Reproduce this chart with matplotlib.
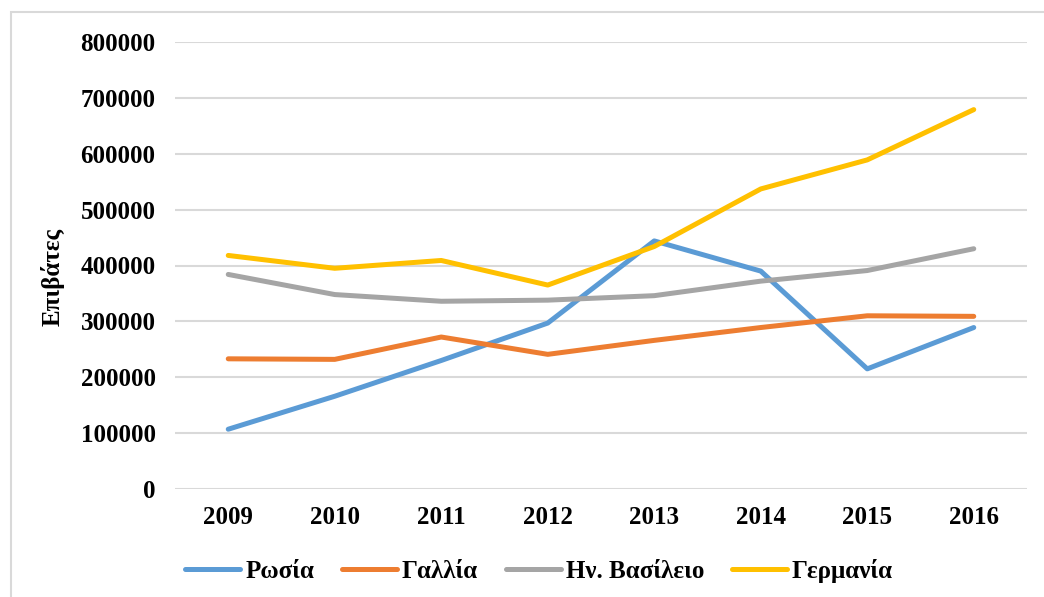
import matplotlib
matplotlib.use("Agg")
import matplotlib.pyplot as plt
from matplotlib.patches import Rectangle
from matplotlib.font_manager import FontProperties

years = ["2009", "2010", "2011", "2012", "2013", "2014", "2015", "2016"]
russia = [107000, 166000, 230000, 297000, 444000, 390000, 215000, 289000]
france = [233000, 232000, 272000, 241000, 266000, 289000, 310000, 309000]
uk = [384000, 348000, 336000, 338000, 346000, 372000, 391000, 430000]
germany = [418000, 395000, 409000, 365000, 434000, 537000, 589000, 679000]
series_names = ["Ρωσία", "Γαλλία", "Ην. Βασίλειο", "Γερμανία"]
colors = ["#5B9BD5", "#ED7D31", "#A5A5A5", "#FFC000"]
yticks = [0, 100000, 200000, 300000, 400000, 500000, 600000, 700000, 800000]

FAM = ['Liberation Serif', 'DejaVu Serif']
plt.rcParams['font.family'] = FAM
plt.rcParams['font.weight'] = 'bold'

fig = plt.figure(figsize=(10.44, 5.97), dpi=100)
fig.patches.append(Rectangle((11/1044, -0.1), 1.2, 1 - 12/597 + 0.1,
                             transform=fig.transFigure, fill=False,
                             edgecolor="#D9D9D9", linewidth=1.5))
ax = fig.add_axes([175/1044, 1 - 489/597, (1027 - 175)/1044, (489 - 42)/597])

x = list(range(len(years)))
for vals, name, c in zip([russia, france, uk, germany], series_names, colors):
    ax.plot(x, vals, color=c, linewidth=3.6, label=name, solid_capstyle='round')

ax.set_xlim(-0.5, len(years) - 0.5)
ax.set_ylim(0, 800000)
ax.set_yticks(yticks)
ax.set_yticklabels([str(v) for v in yticks])
ax.set_xticks(x)
ax.set_xticklabels(years)
ax.grid(axis='y', color='#D9D9D9', linewidth=1.5)
ax.set_axisbelow(True)
for s in ax.spines.values():
    s.set_visible(False)
ax.tick_params(axis='both', length=0, labelsize=18)
ax.tick_params(axis='y', pad=14)
ax.tick_params(axis='x', pad=12)
for lab in ax.get_xticklabels() + ax.get_yticklabels():
    lab.set_fontweight('bold')
    lab.set_family(FAM)

ax.set_ylabel("Επιβάτες", fontsize=18, fontweight='bold', family=FAM)
ax.yaxis.set_label_coords((65 - 175) / 852, (489 - 277) / 447)

prop = FontProperties(family=FAM, weight='bold', size=18)
handles, labels = ax.get_legend_handles_labels()
leg = fig.legend(handles, labels, loc='center', bbox_to_anchor=(539 / 1044, 1 - 571 / 597),
                 ncol=4, frameon=False, handlelength=2.2,
                 handletextpad=0.2, columnspacing=1.1, prop=prop)

fig.savefig("out.png", dpi=100)
